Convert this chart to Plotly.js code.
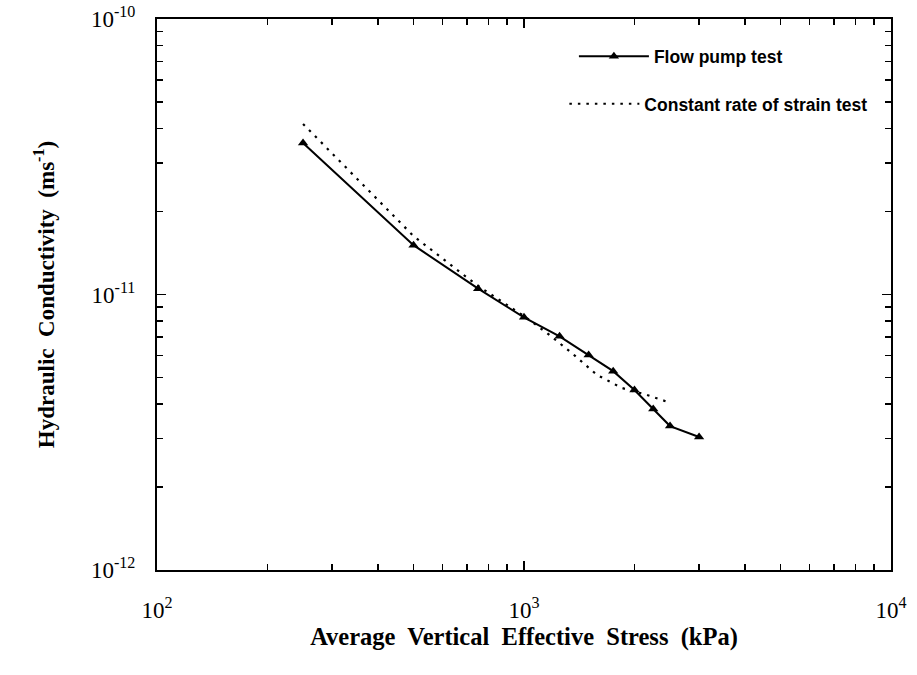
<!DOCTYPE html>
<html>
<head>
<meta charset="utf-8">
<script src="https://cdn.plot.ly/plotly-3.0.1.min.js"></script>
<style>html,body{margin:0;padding:0;background:#fff;}#chart{width:917px;height:675px;}</style>
</head>
<body>
<div id="chart"></div>
<script>
// Flow pump test
const flowStress = [250, 500, 750, 1000, 1250, 1500, 1750, 2000, 2250, 2500, 3000];
const flowK = [3.55e-11, 1.51e-11, 1.05e-11, 8.26e-12, 7.05e-12, 6.03e-12, 5.27e-12, 4.50e-12, 3.84e-12, 3.33e-12, 3.04e-12];
// Constant rate of strain test
const crsStress = [250, 500, 745, 1000, 1155, 1350, 1580, 1845, 2160, 2430];
const crsK = [4.16e-11, 1.63e-11, 1.08e-11, 8.35e-12, 7.25e-12, 6.13e-12, 5.11e-12, 4.58e-12, 4.32e-12, 4.10e-12];

const xTickVals = [100, 1000, 10000];
const xTickText = ['10<sup>2</sup>', '10<sup>3</sup>', '10<sup>4</sup>'];
const yTickVals = [1e-12, 1e-11, 1e-10];
const yTickText = ['10<sup>-12</sup>', '10<sup>-11</sup>', '10<sup>-10</sup>'];
const xMinor = [200,300,400,500,600,700,800,900,2000,3000,4000,5000,6000,7000,8000,9000];
const yMinor = [2e-12,3e-12,4e-12,5e-12,6e-12,7e-12,8e-12,9e-12,2e-11,3e-11,4e-11,5e-11,6e-11,7e-11,8e-11,9e-11];

const serif = 'Liberation Serif, Times New Roman, serif';
const sans = 'Liberation Sans, Arial, sans-serif';

const traces = [
  {
    x: flowStress, y: flowK, type: 'scatter', mode: 'lines+markers',
    name: 'Flow pump test', legend: 'legend',
    line: {color: '#000', width: 2},
    marker: {symbol: 'triangle-up', size: 9, color: '#000'}
  },
  {
    x: crsStress, y: crsK, type: 'scatter', mode: 'lines',
    name: 'Constant rate of strain test', legend: 'legend2',
    line: {color: '#000', width: 2.2, dash: '2.5px,6px'}
  }
];

function axisBase() {
  return {
    type: 'log',
    showgrid: false, zeroline: false,
    showline: true, linecolor: '#000', linewidth: 2,
    mirror: 'ticks',
    ticks: 'inside', ticklen: 9, tickwidth: 1.5, tickcolor: '#000',
    tickmode: 'array',
    tickfont: {family: serif, size: 23, color: '#000'}
  };
}

const layout = {
  width: 917, height: 675,
  margin: {l: 157, r: 26, t: 19, b: 105},
  paper_bgcolor: '#fff', plot_bgcolor: '#fff',
  showlegend: true,
  xaxis: Object.assign(axisBase(), {
    range: [2, 4],
    tickvals: xTickVals, ticktext: xTickText,
    ticklabelstandoff: 18,
    minor: {tickmode: 'array', tickvals: xMinor, ticks: 'inside', ticklen: 6, tickwidth: 1.5, tickcolor: '#000'},
    title: {text: 'Average  Vertical  Effective  Stress  (kPa)', font: {family: serif, size: 24.5, color: '#000', weight: 'bold'}, standoff: 5}
  }),
  yaxis: Object.assign(axisBase(), {
    range: [-12, -10],
    tickvals: yTickVals, ticktext: yTickText,
    ticklabelstandoff: 15,
    minor: {tickmode: 'array', tickvals: yMinor, ticks: 'inside', ticklen: 6, tickwidth: 1.5, tickcolor: '#000'},
    title: {text: 'Hydraulic  Conductivity  (ms<sup>-1</sup>)', font: {family: serif, size: 23, color: '#000', weight: 'bold'}, standoff: 30}
  }),
  legend: {
    x: 0.568, y: 0.932, xanchor: 'left', yanchor: 'middle',
    bgcolor: 'rgba(0,0,0,0)', borderwidth: 0, itemwidth: 70,
    font: {family: sans, size: 17.5, color: '#000', weight: 'bold'}
  },
  legend2: {
    x: 0.555, y: 0.846, xanchor: 'left', yanchor: 'middle',
    bgcolor: 'rgba(0,0,0,0)', borderwidth: 0, itemwidth: 70,
    font: {family: sans, size: 17.5, color: '#000', weight: 'bold'}
  }
};

Plotly.newPlot('chart', traces, layout, {displayModeBar: false, staticPlot: true});
</script>
</body>
</html>
